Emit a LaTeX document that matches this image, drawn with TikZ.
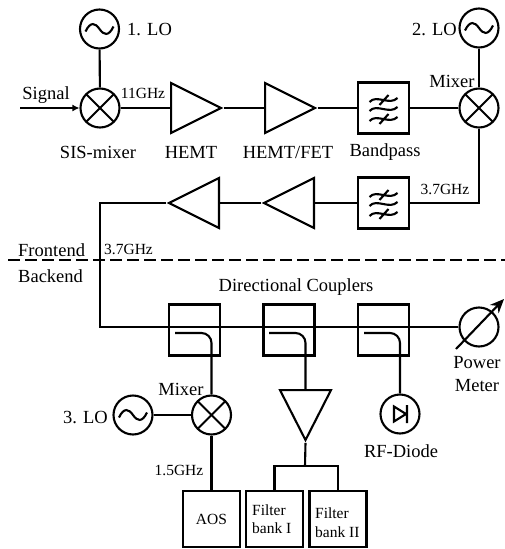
\documentclass[tikz,border=0pt]{standalone}
\usepackage{fontspec}
\setmainfont{Liberation Serif}
\usetikzlibrary{arrows.meta,shapes.geometric}
\tikzset{
  wire/.style={line width=2.1pt},
  lab/.style={inner sep=0pt,font=\fontsize{18.5}{20}\selectfont},
  smalllab/.style={inner sep=0pt,font=\fontsize{15.5}{18}\selectfont},
  round/.style={draw,wire,circle,minimum size=39pt,inner sep=0pt},
  mixer/.style={round,path picture={
    \draw[wire] (path picture bounding box.south west)--(path picture bounding box.north east);
    \draw[wire] (path picture bounding box.north west)--(path picture bounding box.south east);}},
  osc/.style={round,path picture={
    \draw[wire,shift={(path picture bounding box.center)}] (-14,2.5) .. controls (-9,-8) and (-4,-6) .. (0,0) .. controls (4,6) and (9,8) .. (14,-2.5);}},
  diode/.style={round,path picture={
    \draw[wire,shift={(path picture bounding box.center)}] (-6,-7.5)--(-6,7.5)--(6,0)--cycle (7,-9)--(7,9);}},
  amp/.style={draw,wire,isosceles triangle,isosceles triangle stretches,inner sep=0pt,
    minimum width=50pt,minimum height=50pt},
  box/.style={draw,wire,rectangle,inner sep=0pt,minimum width=51pt,minimum height=51pt},
  bandpass/.style={box,path picture={
    \draw[wire,shift={(path picture bounding box.center)}]
      (-14,-6) .. controls (-7,-14) and (6,-2) .. (14,-10)
      (-14,3) .. controls (-7,-5) and (6,7) .. (14,-1)
      (-14,13) .. controls (-7,5) and (6,17) .. (14,9)
      (-4,-3) -- (5,-13) (-4,16) -- (5,6);}},
  bank/.style={draw,wire,rectangle,inner sep=0pt,minimum width=57pt,minimum height=56pt}
}
\begin{document}
\begin{tikzpicture}[x=1pt,y=-1pt]
  \useasboundingbox (0,0) rectangle (505,549);
  % frontend
  \coordinate (sig) at (20,108);
  \node[osc] (lo1) at (99.5,29) {};
  \node[mixer] (mix1) at (100,108) {};
  \node[amp,anchor=lower side] (hemt) at (170,108) {};
  \node[amp,anchor=lower side] (fet) at (264,108) {};
  \node[bandpass] (bp1) at (383.5,108) {};
  \node[mixer] (mix2) at (479,108) {};
  \node[osc] (lo2) at (479,28) {};
  \node[bandpass] (bp2) at (383.5,203) {};
  \node[amp,shape border rotate=180,anchor=lower side] (amp3) at (315,203) {};
  \node[amp,shape border rotate=180,anchor=lower side] (amp4) at (220,203) {};
  \draw[wire,-{Latex[length=7pt,width=7pt]}] (sig) -- (mix1);
  \draw[wire] (lo1) -- (mix1);
  \draw[wire] (mix1) -- (hemt.lower side);
  \draw[wire] (hemt.apex) -- (fet.lower side);
  \draw[wire] (fet.apex) -- (bp1);
  \draw[wire] (bp1) -- (mix2);
  \draw[wire] (lo2) -- (mix2);
  \draw[wire] (mix2) |- (bp2);
  \draw[wire] (bp2) -- (amp3.lower side);
  \draw[wire] (amp3.apex) -- (amp4.lower side);
  % backend
  \coordinate (bend) at (100,327);
  \coordinate (pmtail) at (456,349);
  \coordinate (pmhead) at (504,299);
  \coordinate (split) at (305,466);
  \coordinate (cpl1a) at (175,333);
  \coordinate (cpl2a) at (269,333);
  \coordinate (cpl3a) at (364,333);
  \coordinate (dashl) at (8,260);
  \coordinate (dashr) at (505,260);
  \node[box] (cpl1) at (194.5,330) {};
  \node[box] (cpl2) at (289,330) {};
  \node[box] (cpl3) at (383.5,330) {};
  \node[round] (pm) at (479,327) {};
  \node[mixer] (mix3) at (211.5,415) {};
  \node[osc] (lo3) at (133,415) {};
  \node[amp,shape border rotate=270,anchor=lower side,minimum width=51pt] (amp5) at (305.5,389) {};
  \node[diode] (rf) at (400,414) {};
  \node[bank] (aos) at (211.5,519) {};
  \node[bank] (fb1) at (274.5,519) {};
  \node[bank] (fb2) at (338,519) {};
  \draw[wire] (amp4.apex) -| (bend) -- (pm);
  \draw[wire,rounded corners=10pt] (cpl1a) -| (mix3);
  \draw[wire,rounded corners=10pt] (cpl2a) -| (amp5.lower side);
  \draw[wire,rounded corners=10pt] (cpl3a) -| (rf);
  \draw[wire] (lo3) -- (mix3);
  \draw[wire] (mix3) -- (aos);
  \draw[wire] (amp5.apex) -- (split);
  \draw[wire] (fb1) |- (split) -| (fb2);
  \draw[wire,-{Stealth[length=14pt,width=12pt]}] (pmtail) -- (pmhead);
  \draw[line width=1.8pt,dash pattern=on 12pt off 5pt] (dashl) -- (dashr);
  % labels
  \node[lab,anchor=west] (lo1t) at (127,30) {1. LO};
  \node[lab,anchor=east] (lo2t) at (457,30) {2. LO};
  \node[lab,anchor=east] (lo3t) at (108,418) {3. LO};
  \node[lab] (sigt) at (46,95) {Signal};
  \node[smalllab] (f11) at (143,93) {11GHz};
  \node[lab] (sist) at (98,152) {SIS-mixer};
  \node[lab] (hemtt) at (191,152) {HEMT};
  \node[lab] (fett) at (288,152) {HEMT/FET};
  \node[lab] (bpt) at (385,152) {Bandpass};
  \node[lab] (mix2t) at (452,81) {Mixer};
  \node[smalllab] (f37a) at (445,189) {3.7GHz};
  \node[smalllab,anchor=west] (f37b) at (104,249) {3.7GHz};
  \node[lab,anchor=west] (frontt) at (18,250) {Frontend};
  \node[lab,anchor=west] (backt) at (18,276) {Backend};
  \node[lab] (dirt) at (296,287) {Directional Couplers};
  \node[lab] (mix3t) at (181,389) {Mixer};
  \node[smalllab] (f15) at (179,470) {1.5GHz};
  \node[lab] (powt) at (477,363) {Power};
  \node[lab] (mett) at (477,386) {Meter};
  \node[lab] (rft) at (401,451) {RF-Diode};
  \node[smalllab] (aost) at (211.5,519) {AOS};
  \node[smalllab,anchor=west] (fb1a) at (252,510) {Filter};
  \node[smalllab,anchor=west] (fb1b) at (252,528) {bank I};
  \node[smalllab,anchor=west] (fb2a) at (315,513) {Filter};
  \node[smalllab,anchor=west] (fb2b) at (315,532) {bank II};
\end{tikzpicture}
\end{document}
